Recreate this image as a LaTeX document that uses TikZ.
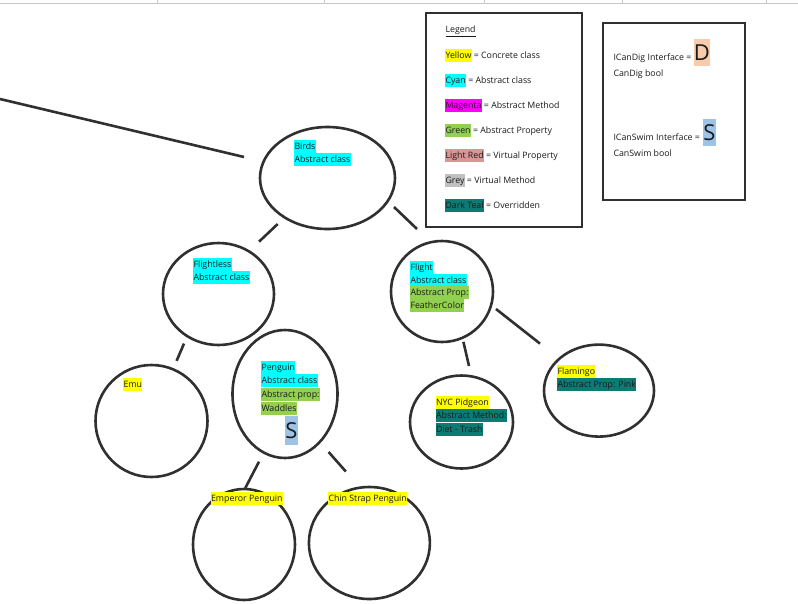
\documentclass[tikz,border=0pt]{standalone}
\usepackage{fontspec}
\setmainfont{Open Sans}
\usetikzlibrary{shapes.geometric}
\definecolor{lineC}{HTML}{303030}
\definecolor{txtC}{HTML}{1A1A1A}
\definecolor{hYel}{HTML}{FFFF00}
\definecolor{hCyan}{HTML}{00FFFF}
\definecolor{hMag}{HTML}{FF00FF}
\definecolor{hGreen}{HTML}{92D050}
\definecolor{hRed}{HTML}{DA9694}
\definecolor{hGrey}{HTML}{C0C0C0}
\definecolor{hTeal}{HTML}{0B7B73}
\definecolor{hPeach}{HTML}{F8CBAD}
\definecolor{hBlue}{HTML}{9DC3E6}
\begin{document}
\begin{tikzpicture}[x=1pt,y=-1pt,
  ov/.style={ellipse, draw=lineC, line width=2.6pt, inner sep=0pt},
  conn/.style={draw=lineC, line width=2.6pt},
  boxC/.style={draw=lineC, line width=2.6pt},
  lbl/.style={anchor=west, inner xsep=0.3pt, inner ysep=0pt, text height=9.5pt, text depth=3.5pt,
              text=txtC, font=\fontsize{8.8}{10}\selectfont},
  big/.style={inner sep=0pt, text=txtC, font=\fontsize{22}{22}\selectfont}
]
\useasboundingbox (0,0) rectangle (798,603);
\fill[white] (0,0) rectangle (798,603);
% faint header strip
\draw[gray!45, line width=0.8pt] (0,3) -- (798,3);
\foreach \gx in {157,324,484,622,766} \draw[gray!45, line width=0.8pt] (\gx,0) -- (\gx,4);

% ellipses
\node[ov, minimum width=135pt, minimum height=102pt] (birds) at (327.5,178) {};
\node[ov, minimum width=111pt, minimum height=102pt] (flightless) at (218.5,294) {};
\node[ov, minimum width=102pt, minimum height=101pt] (flight) at (442,291.5) {};
\node[ov, minimum width=112pt, minimum height=112pt] (emu) at (151.5,421) {};
\node[ov, minimum width=105pt, minimum height=128pt] (penguin) at (285,394) {};
\node[ov, minimum width=103pt, minimum height=93pt] (nyc) at (461.5,422) {};
\node[ov, minimum width=110pt, minimum height=92pt] (flamingo) at (599,390.6) {};
\node[ov, minimum width=102pt, minimum height=111pt] (emperor) at (244,544.5) {};
\node[ov, minimum width=121pt, minimum height=112pt] (chin) at (369.4,543) {};

% connector end points
\coordinate (off) at (0,99);
\coordinate (birdsIn) at (244,157);
\coordinate (bA) at (277.7,224);
\coordinate (flA) at (259,241.7);
\coordinate (bB) at (394,207);
\coordinate (ftB) at (417,229);
\coordinate (flC) at (184,343.6);
\coordinate (emC) at (176.6,360.8);
\coordinate (ftD) at (463.4,341.8);
\coordinate (nyD) at (469,366);
\coordinate (ftE) at (496,309);
\coordinate (faE) at (540,343.6);
\coordinate (pF) at (259,461.7);
\coordinate (epF) at (245.3,488);
\coordinate (pG) at (328.6,452);
\coordinate (csG) at (345.8,471.5);

\draw[conn] (off) -- (birdsIn);
\draw[conn] (bA) -- (flA);
\draw[conn] (bB) -- (ftB);
\draw[conn] (flC) -- (emC);
\draw[conn] (ftD) -- (nyD);
\draw[conn] (ftE) -- (faE);
\draw[conn] (pF) -- (epF);
\draw[conn] (pG) -- (csG);

% node texts
\node[lbl, fill=hCyan] (t1) at (294,146) {Birds};
\node[lbl, fill=hCyan] (t2) at (294,159) {Abstract class};

\node[lbl, fill=hCyan] (t3) at (193,264) {Flightless};
\node[lbl, fill=hCyan] (t4) at (193,277) {Abstract class};

\node[lbl, fill=hCyan] (t5) at (410,267) {Flight};
\node[lbl, fill=hCyan] (t6) at (410,280) {Abstract class};
\node[lbl, fill=hGreen] (t7) at (410,292.5) {Abstract Prop:};
\node[lbl, fill=hGreen] (t8) at (410,305) {FeatherColor};

\node[lbl, fill=hYel] (t9) at (123,384) {Emu};

\node[lbl, fill=hCyan] (t10) at (261,367) {Penguin};
\node[lbl, fill=hCyan] (t11) at (261,380) {Abstract class};
\node[lbl, fill=hGreen] (t12) at (261,394.5) {Abstract prop:};
\node[lbl, fill=hGreen] (t13) at (261,408) {Waddles};
\node[big, fill=hBlue, minimum width=11pt, minimum height=29pt] (t14) at (291.5,430.5) {S};

\node[lbl, fill=hYel] (t15) at (435.6,402) {NYC Pidgeon};
\node[lbl, fill=hTeal] (t16) at (435.6,415.7) {Abstract Method:};
\node[lbl, fill=hTeal] (t17) at (435.6,429.5) {Diet - Trash};

\node[lbl, fill=hYel] (t18) at (557,371.4) {Flamingo};
\node[lbl, fill=hTeal] (t19) at (557,384.4) {Abstract Prop: Pink};

\node[lbl, fill=hYel] (t20) at (210.6,498) {Emperor Penguin};
\node[lbl, fill=hYel] (t21) at (328,498) {Chin Strap Penguin};

% legend
\draw[boxC] (426,13) rectangle (582,227);
\node[lbl] (lg0) at (445,29.5) {\underline{Legend}};
\node[lbl, fill=hYel] (lg1) at (445,55) {Yellow};
\node[lbl] (lg1b) at (lg1.east) {\,= Concrete class};
\node[lbl, fill=hCyan] (lg2) at (445,80) {Cyan};
\node[lbl] (lg2b) at (lg2.east) {\,= Abstract class};
\node[lbl, fill=hMag] (lg3) at (445,105) {Magenta};
\node[lbl] (lg3b) at (lg3.east) {\,= Abstract Method};
\node[lbl, fill=hGreen] (lg4) at (445,130) {Green};
\node[lbl] (lg4b) at (lg4.east) {\,= Abstract Property};
\node[lbl, fill=hRed] (lg5) at (445,155) {Light Red};
\node[lbl] (lg5b) at (lg5.east) {\,= Virtual Property};
\node[lbl, fill=hGrey] (lg6) at (445,180) {Grey};
\node[lbl] (lg6b) at (lg6.east) {\,= Virtual Method};
\node[lbl, fill=hTeal] (lg7) at (445,205) {Dark Teal};
\node[lbl] (lg7b) at (lg7.east) {\,= Overridden};

% interface box
\draw[boxC] (603,23) rectangle (745,200);
\node[lbl] (if1) at (613,57) {ICanDig Interface =};
\node[big, fill=hPeach, minimum width=14pt, minimum height=27pt] (ifD) at (702,52.5) {D};
\node[lbl] (if2) at (613,73) {CanDig bool};
\node[lbl] (if3) at (613,137) {ICanSwim Interface =};
\node[big, fill=hBlue, minimum width=11pt, minimum height=27pt] (ifS) at (709.5,132.5) {S};
\node[lbl] (if4) at (613,153) {CanSwim bool};
\end{tikzpicture}
\end{document}
